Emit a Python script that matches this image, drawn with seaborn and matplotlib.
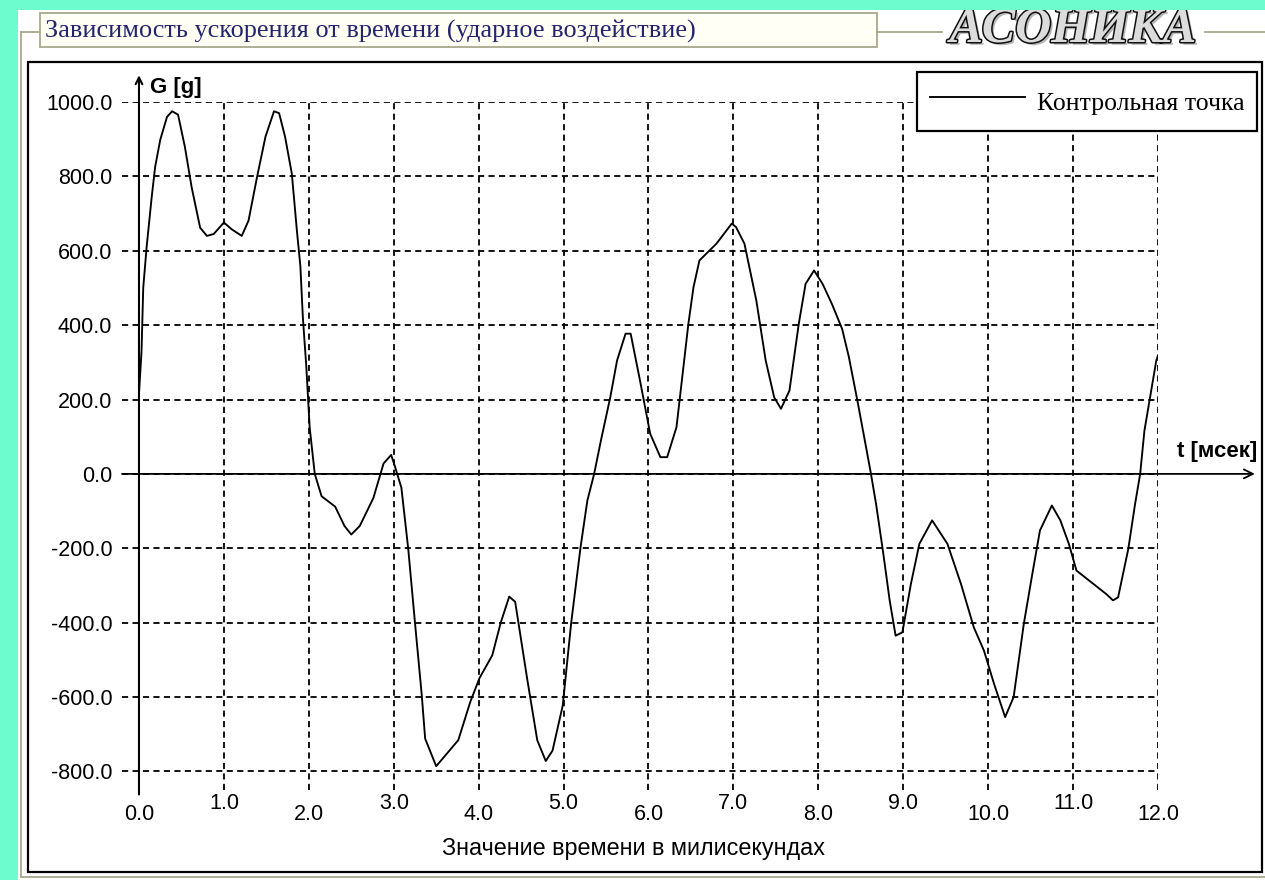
import matplotlib
matplotlib.use("Agg")
import matplotlib.pyplot as plt
import matplotlib.patches as mpatches
import matplotlib.lines as mlines
import matplotlib.patheffects as pe
import seaborn as sns
import pandas as pd

# ---------------- data ----------------
time_ms = [0.00, 0.03, 0.05, 0.09, 0.15, 0.19, 0.25, 0.33, 0.39, 0.46, 0.54, 0.62,
           0.72, 0.80, 0.88, 1.00, 1.09, 1.21, 1.29, 1.39, 1.49, 1.59, 1.65, 1.72,
           1.80, 1.86, 1.90, 1.93, 1.97, 2.01, 2.07, 2.15, 2.31, 2.42, 2.50, 2.60,
           2.76, 2.88, 2.97, 3.01, 3.09, 3.17, 3.25, 3.33, 3.37, 3.50, 3.76, 3.90,
           4.01, 4.16, 4.26, 4.36, 4.43, 4.57, 4.69, 4.79, 4.87, 4.99, 5.09, 5.20,
           5.28, 5.36, 5.44, 5.55, 5.63, 5.73, 5.79, 5.90, 6.02, 6.14, 6.22, 6.33,
           6.47, 6.53, 6.60, 6.80, 6.98, 7.03, 7.13, 7.27, 7.38, 7.48, 7.56, 7.66,
           7.77, 7.85, 7.95, 8.05, 8.16, 8.28, 8.36, 8.46, 8.54, 8.62, 8.68, 8.76,
           8.84, 8.91, 8.99, 9.09, 9.19, 9.34, 9.52, 9.68, 9.83, 9.95, 10.07, 10.20,
           10.30, 10.42, 10.52, 10.61, 10.75, 10.85, 10.95, 11.04, 11.24, 11.39, 11.47,
           11.53, 11.65, 11.73, 11.79, 11.84, 11.92, 11.98, 12.00]
accel_g = [215, 330, 500, 610, 745, 825, 898, 960, 975, 966, 880, 771,
           662, 640, 645, 676, 658, 640, 681, 798, 907, 975, 970, 907,
           807, 653, 560, 420, 290, 125, 0, -60, -88, -140, -163, -140,
           -65, 28, 51, 23, -37, -200, -400, -595, -712, -786, -716, -614,
           -549, -488, -400, -330, -344, -549, -716, -772, -744, -623, -400, -197,
           -72, 0, 90, 206, 305, 377, 377, 251, 108, 45, 45, 126,
           404, 502, 574, 619, 673, 664, 619, 466, 305, 206, 175, 224,
           404, 511, 547, 511, 457, 390, 314, 197, 99, 0, -81, -206,
           -340, -435, -426, -296, -188, -125, -188, -296, -412, -475, -565, -654,
           -600, -403, -269, -152, -85, -125, -188, -260, -296, -323, -340,
           -332, -202, -81, 0, 116, 224, 305, 318]

x_ticks = [0, 1, 2, 3, 4, 5, 6, 7, 8, 9, 10, 11, 12]
x_tick_labels = ["0.0", "1.0", "2.0", "3.0", "4.0", "5.0", "6.0", "7.0", "8.0",
                 "9.0", "10.0", "11.0", "12.0"]
y_ticks = [1000, 800, 600, 400, 200, 0, -200, -400, -600, -800]
y_tick_labels = ["1000.0", "800.0", "600.0", "400.0", "200.0", "0.0", "-200.0",
                 "-400.0", "-600.0", "-800.0"]

title_text = "Зависимость ускорения от времени (ударное воздействие)"
logo_text = "АСОНИКА"
series_name = "Контрольная точка"
x_label = "Значение времени в милисекундах"
y_axis_name = "G [g]"
x_axis_name = "t [мсек]"

df = pd.DataFrame({"t": time_ms, "G": accel_g})

# ---------------- figure / layout ----------------
W, H = 1265, 880
def fx(x):
    return x / W
def fy(y):
    return 1 - y / H

green = "#6cfcce"
fig = plt.figure(figsize=(W / 100, H / 100), dpi=100, facecolor=green)

# white panel
fig.patches.append(mpatches.Rectangle((fx(18), fy(880)), (W - 18) / W, (880 - 10) / H,
                                      transform=fig.transFigure, facecolor="white",
                                      edgecolor="none", zorder=0))
frame_col = "#a8a88c"
# group box lines
for (x0, y0, x1, y1) in [(21, 32, 40, 32), (877, 32, 942, 32), (1205, 32, 1265, 32),
                         (21, 32, 21, 877), (21, 877, 1265, 877)]:
    fig.add_artist(mlines.Line2D([fx(x0), fx(x1)], [fy(y0), fy(y1)],
                                 transform=fig.transFigure, color=frame_col, lw=1.3))
# title box
fig.patches.append(mpatches.Rectangle((fx(40), fy(47)), (877 - 40) / W, (47 - 13) / H,
                                      transform=fig.transFigure, facecolor="#fffff6",
                                      edgecolor=frame_col, lw=1.3, zorder=1))
fig.text(fx(45), fy(31), title_text, ha="left", va="center",
         family="Liberation Serif", fontsize=18.9, color="#23236e", zorder=2)

# logo
fig.text(fx(1073), fy(30), logo_text, ha="center", va="center",
         family="Liberation Serif", weight="bold", style="italic", fontsize=36,
         color="#dcdcdc", zorder=2,
         path_effects=[pe.SimplePatchShadow(offset=(2, -2), shadow_rgbFace="#888888", alpha=0.6),
                       pe.Stroke(linewidth=2.2, foreground="#111111"), pe.Normal()])

# green top strip over the logo
fig.patches.append(mpatches.Rectangle((fx(18), fy(10)), (W - 18) / W, 10 / H,
                                      transform=fig.transFigure, facecolor=green,
                                      edgecolor="none", zorder=10))

# plot frame
fig.patches.append(mpatches.Rectangle((fx(28), fy(872)), (1262 - 28) / W, (872 - 62) / H,
                                      transform=fig.transFigure, facecolor="white",
                                      edgecolor="black", lw=1.6, zorder=1))

# axes: data area
ax = fig.add_axes([fx(122), fy(790), (1158 - 122) / W, (790 - 102) / H])
ax.set_facecolor("none")
ax.set_zorder(3)

sns.lineplot(data=df, x="t", y="G", color="black", lw=1.35, label=series_name,
             ax=ax, sort=False, zorder=4)

ax.set_xlim(-0.2, 12.0)
ax.set_ylim(-850, 1000)
for s in ax.spines.values():
    s.set_visible(False)

ax.set_xticks(x_ticks)
ax.set_xticklabels(x_tick_labels, family="Liberation Sans", fontsize=15.5)
ax.set_yticks(y_ticks)
ax.set_yticklabels(y_tick_labels, family="Liberation Sans", fontsize=15.5)
ax.tick_params(axis="both", length=0)
ax.tick_params(axis="y", pad=7)
for i, tick in enumerate(ax.xaxis.get_major_ticks()):
    tick.set_pad(10.0 if i % 2 == 0 else 1.8)

ax.grid(True, color="black", linestyle=(0, (3.4, 2.4)), linewidth=1.3)
ax.set_axisbelow(True)
ax.set_xlabel("")
ax.set_ylabel("")

# axis lines with arrows
ax.annotate("", xy=(13.14, 0), xytext=(-0.2, 0), annotation_clip=False,
            arrowprops=dict(arrowstyle="->", lw=1.3, color="black",
                            mutation_scale=16, shrinkA=0, shrinkB=0))
ax.annotate("", xy=(0, 1072), xytext=(0, -862), annotation_clip=False,
            arrowprops=dict(arrowstyle="->", lw=1.5, color="black",
                            mutation_scale=12, shrinkA=0, shrinkB=0))

fig.text(fx(150), fy(88), y_axis_name, ha="left", va="center",
         family="Liberation Sans", weight="bold", fontsize=16)
fig.text(fx(1257), fy(451), x_axis_name, ha="right", va="center",
         family="Liberation Sans", weight="bold", fontsize=16)
fig.text(fx(634), fy(848), x_label, ha="center", va="center",
         family="Liberation Sans", fontsize=16.8)

leg = ax.legend(loc="upper right", bbox_to_anchor=(fx(1257), fy(72)),
                bbox_transform=fig.transFigure, frameon=True, fancybox=False,
                shadow=False, prop={"family": "Liberation Serif", "size": 18.5},
                handlelength=3.7, handletextpad=0.45, borderpad=0.5,
                handleheight=1.6, borderaxespad=0)
leg.get_frame().set_edgecolor("black")
leg.get_frame().set_linewidth(1.6)
leg.get_frame().set_alpha(1)
for h in leg.get_lines():
    h.set_linewidth(1.35)

fig.savefig("out.png", dpi=100, facecolor=fig.get_facecolor())
